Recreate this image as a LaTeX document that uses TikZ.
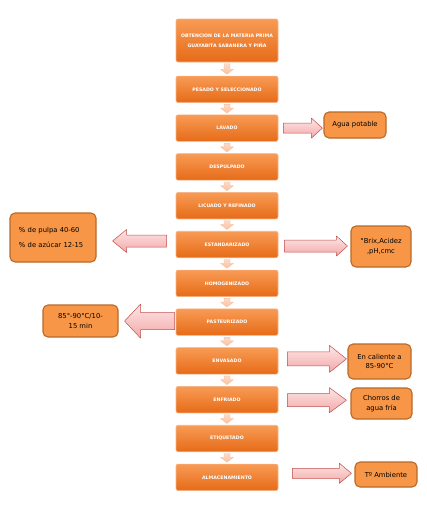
\documentclass[tikz,border=0pt]{standalone}
\usepackage{fontspec}
\setmainfont{DejaVu Sans}
\usetikzlibrary{calc}
\definecolor{flowTop}{HTML}{F89B55}
\definecolor{flowBot}{HTML}{E66B17}
\definecolor{flowEdge}{HTML}{F6B48A}
\definecolor{noteFill}{HTML}{F79646}
\definecolor{noteEdge}{HTML}{B8692A}
\definecolor{arrowTop}{HTML}{FDE6E6}
\definecolor{arrowBot}{HTML}{F3A8A8}
\definecolor{arrowEdge}{HTML}{C0504D}
\definecolor{stepArrow}{HTML}{F9C2A3}
\tikzset{
  stage/.style={draw=flowEdge, line width=0.6pt, rounded corners=2pt,
    top color=flowTop, bottom color=flowBot,
    minimum width=102pt, minimum height=26.5pt, inner sep=1pt,
    align=center, text=white, font=\fontsize{4.7}{10}\selectfont\bfseries},
  note/.style={draw=noteEdge, line width=1.1pt, fill=noteFill,
    rounded corners=5pt, inner sep=1pt, align=center,
    font=\fontsize{6.8}{9.5}\selectfont},
  sidearrow/.style n args={3}{draw=arrowEdge, line width=0.5pt,
    top color=arrowTop, bottom color=arrowBot,
    to path={let \p1=(\tikztostart), \p2=(\tikztotarget),
                 \n1={(\x2>\x1) ? 1 : -1} in
      (\x1,{\y1+#1}) -- ({\x2-\n1*#3},{\y1+#1}) -- ({\x2-\n1*#3},{\y1+#2})
      -- (\x2,\y1) -- ({\x2-\n1*#3},{\y1-#2}) -- ({\x2-\n1*#3},{\y1-#1})
      -- (\x1,{\y1-#1}) -- cycle}},
  downflow/.style={draw=stepArrow!85!orange, line width=0.3pt,
    top color=stepArrow!60!white, bottom color=stepArrow,
    to path={let \p1=(\tikztostart), \p2=(\tikztotarget) in
      ({\x1-3pt},\y1) -- ({\x1-3pt},{\y2+5pt}) -- ({\x1-6.5pt},{\y2+5pt})
      -- (\x1,\y2) -- ({\x1+6.5pt},{\y2+5pt}) -- ({\x1+3pt},{\y2+5pt})
      -- ({\x1+3pt},\y1) -- cycle}},
}
\begin{document}
\begin{tikzpicture}[x=1pt, y=-1pt, line join=round]
  \useasboundingbox (0,0) rectangle (427,506);

  % ===== Main process column =====
  \node[stage, minimum height=43pt] (obt) at (227,40.5)
    {OBTENCION DE LA MATERIA PRIMA\\GUAYABITA SABANERA Y PIÑA};
  \foreach \nm/\lbl [count=\i] in {pes/PESADO Y SELECCIONADO, lav/LAVADO,
      desp/DESPULPADO, lic/LICUADO Y REFINADO, est/ESTANDARIZADO,
      hom/HOMOGENIZADO, past/PASTEURIZADO, env/ENVASADO, enf/ENFRIADO,
      eti/ETIQUETADO, alm/ALMACENAMIENTO}
    \node[stage] (\nm) at (227,{89.3+38.8*(\i-1)}) {\lbl};

  % small arrows between stages
  \foreach \a/\b in {obt/pes, pes/lav, lav/desp, desp/lic, lic/est,
      est/hom, hom/past, past/env, env/enf, enf/eti, eti/alm}
    \path[downflow] ([yshift=-1.5pt]\a.south) to ([yshift=1.5pt]\b.north);

  % ===== Side notes =====
  \node[note, minimum width=62pt, minimum height=26pt] (agua) at (355,125)
    {Agua potable};
  \node[note, minimum width=86pt, minimum height=49pt, text width=68pt,
        align=left] (mezcla) at (53,237.5)
    {\% de pulpa 40-60\\[6pt]\% de azúcar 12-15};
  \node[note, minimum width=60pt, minimum height=41pt] (control) at (381,246.5)
    {°Brix,Acidez\\,pH,cmc};
  \node[note, minimum width=75pt, minimum height=32pt] (temp) at (80.5,321)
    {85°-90°C/10-\\15 min};
  \node[note, minimum width=63pt, minimum height=35pt] (envase) at (379.5,361.5)
    {En caliente a\\85-90°C};
  \node[note, minimum width=61pt, minimum height=31pt] (frio) at (381.5,403.5)
    {Chorros de\\agua fría};
  \node[note, minimum width=62pt, minimum height=25pt] (ambiente) at (386,474.5)
    {Tº Ambiente};

  % ===== Block arrows to the notes =====
  \path[sidearrow={5pt}{10pt}{11pt}]
    ([xshift=5pt]lav.east) to ([xshift=-1pt]agua.west);
  \path[sidearrow={6pt}{11.5pt}{14pt}]
    ([xshift=-9pt,yshift=3.5pt]est.west) to ([xshift=16pt]mezcla.east);
  \path[sidearrow={6pt}{10pt}{11pt}]
    ([xshift=6pt,yshift=-1.5pt]est.east) to ([xshift=-3pt]control.west);
  \path[sidearrow={8.5pt}{17pt}{16pt}]
    ([xshift=-1pt,yshift=1pt]past.west) to ([xshift=6pt]temp.east);
  \path[sidearrow={7pt}{13.5pt}{17pt}]
    ([xshift=9pt,yshift=2pt]env.east) to ([xshift=-1pt]envase.west);
  \path[sidearrow={6.5pt}{12.5pt}{17pt}]
    ([xshift=9pt,yshift=-0.5pt]enf.east) to ([xshift=-4pt]frio.west);
  \path[sidearrow={5pt}{10pt}{12pt}]
    ([xshift=14pt,yshift=4pt]alm.east) to ([xshift=-3pt]ambiente.west);
\end{tikzpicture}
\end{document}
